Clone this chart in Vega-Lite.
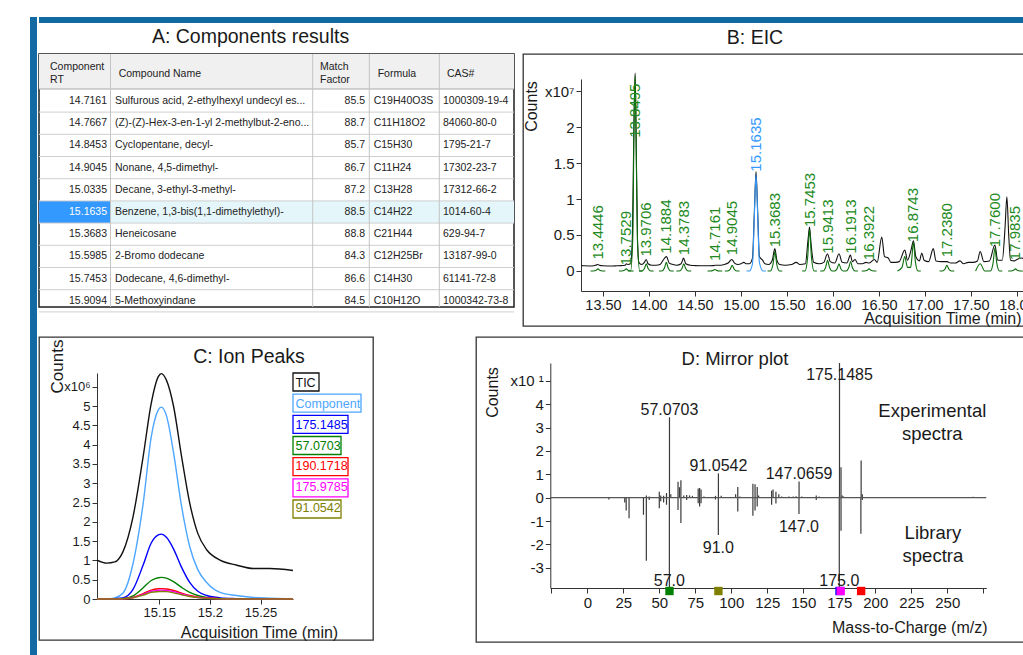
{
"$schema": "https://vega.github.io/schema/vega-lite/v6.json",
"padding": {"left": 30, "top": 17, "right": 0, "bottom": 0},
"background": "white",
"config": {
  "font": "Liberation Sans",
  "view": {"stroke": null},
  "axis": {"grid": false, "labelFont": "Liberation Sans", "titleFont": "Liberation Sans", "labelColor": "#1a1a1a", "titleColor": "#1a1a1a", "domainColor": "#333333", "tickColor": "#333333", "titleFontWeight": "normal", "labelFlush": false, "labelOverlap": false, "labelBound": false, "tickSize": 5, "labelPadding": 2},
  "title": {"font": "Liberation Sans", "fontWeight": "normal", "color": "#1a1a1a"},
  "text": {"font": "Liberation Sans"}
},
"datasets": {
  "tableRows": [
    {"rt":"14.7161","name":"Sulfurous acid, 2-ethylhexyl undecyl es...","mf":"85.5","formula":"C19H40O3S","cas":"1000309-19-4"},
    {"rt":"14.7667","name":"(Z)-(Z)-Hex-3-en-1-yl 2-methylbut-2-eno...","mf":"88.7","formula":"C11H18O2","cas":"84060-80-0"},
    {"rt":"14.8453","name":"Cyclopentane, decyl-","mf":"85.7","formula":"C15H30","cas":"1795-21-7"},
    {"rt":"14.9045","name":"Nonane, 4,5-dimethyl-","mf":"86.7","formula":"C11H24","cas":"17302-23-7"},
    {"rt":"15.0335","name":"Decane, 3-ethyl-3-methyl-","mf":"87.2","formula":"C13H28","cas":"17312-66-2"},
    {"rt":"15.1635","name":"Benzene, 1,3-bis(1,1-dimethylethyl)-","mf":"88.5","formula":"C14H22","cas":"1014-60-4"},
    {"rt":"15.3683","name":"Heneicosane","mf":"88.8","formula":"C21H44","cas":"629-94-7"},
    {"rt":"15.5985","name":"2-Bromo dodecane","mf":"84.3","formula":"C12H25Br","cas":"13187-99-0"},
    {"rt":"15.7453","name":"Dodecane, 4,6-dimethyl-","mf":"86.6","formula":"C14H30","cas":"61141-72-8"},
    {"rt":"15.9094","name":"5-Methoxyindane","mf":"84.5","formula":"C10H12O","cas":"1000342-73-8"}
  ],
  "ticRows": [
    {"t":13.261,"v":0.075},{"t":13.30,"v":0.072},{"t":13.35,"v":0.07},{"t":13.40,"v":0.073},{"t":13.43,"v":0.085},{"t":13.445,"v":0.09},{"t":13.46,"v":0.08},{"t":13.50,"v":0.072},{"t":13.55,"v":0.07},{"t":13.60,"v":0.07},{"t":13.65,"v":0.072},{"t":13.70,"v":0.075},{"t":13.74,"v":0.08},{"t":13.755,"v":0.1},{"t":13.77,"v":0.09},{"t":13.80,"v":0.1},{"t":13.82,"v":0.5},{"t":13.835,"v":1.9},{"t":13.8495,"v":2.75},{"t":13.86,"v":1.9},{"t":13.875,"v":0.45},{"t":13.89,"v":0.12},{"t":13.92,"v":0.09},{"t":13.95,"v":0.12},{"t":13.97,"v":0.16},{"t":13.99,"v":0.1},{"t":14.03,"v":0.08},{"t":14.08,"v":0.08},{"t":14.12,"v":0.09},{"t":14.17,"v":0.18},{"t":14.19,"v":0.2},{"t":14.22,"v":0.11},{"t":14.26,"v":0.09},{"t":14.30,"v":0.08},{"t":14.35,"v":0.1},{"t":14.375,"v":0.18},{"t":14.40,"v":0.1},{"t":14.45,"v":0.08},{"t":14.50,"v":0.075},{"t":14.60,"v":0.072},{"t":14.70,"v":0.075},{"t":14.72,"v":0.08},{"t":14.78,"v":0.08},{"t":14.82,"v":0.09},{"t":14.86,"v":0.11},{"t":14.90,"v":0.16},{"t":14.93,"v":0.11},{"t":14.97,"v":0.09},{"t":15.00,"v":0.1},{"t":15.03,"v":0.12},{"t":15.06,"v":0.1},{"t":15.09,"v":0.1},{"t":15.125,"v":0.18},{"t":15.145,"v":0.8},{"t":15.1635,"v":1.38},{"t":15.182,"v":0.8},{"t":15.2,"v":0.2},{"t":15.235,"v":0.15},{"t":15.26,"v":0.1},{"t":15.30,"v":0.09},{"t":15.34,"v":0.15},{"t":15.368,"v":0.31},{"t":15.39,"v":0.15},{"t":15.42,"v":0.09},{"t":15.48,"v":0.08},{"t":15.55,"v":0.09},{"t":15.60,"v":0.12},{"t":15.64,"v":0.09},{"t":15.70,"v":0.1},{"t":15.73,"v":0.45},{"t":15.745,"v":0.61},{"t":15.76,"v":0.4},{"t":15.79,"v":0.12},{"t":15.85,"v":0.1},{"t":15.90,"v":0.12},{"t":15.94,"v":0.24},{"t":15.97,"v":0.13},{"t":16.02,"v":0.11},{"t":16.065,"v":0.24},{"t":16.10,"v":0.12},{"t":16.15,"v":0.11},{"t":16.19,"v":0.22},{"t":16.21,"v":0.13},{"t":16.24,"v":0.16},{"t":16.27,"v":0.1},{"t":16.32,"v":0.1},{"t":16.36,"v":0.12},{"t":16.39,"v":0.11},{"t":16.45,"v":0.16},{"t":16.48,"v":0.12},{"t":16.53,"v":0.47},{"t":16.56,"v":0.2},{"t":16.60,"v":0.18},{"t":16.63,"v":0.12},{"t":16.68,"v":0.12},{"t":16.72,"v":0.13},{"t":16.78,"v":0.29},{"t":16.81,"v":0.15},{"t":16.85,"v":0.3},{"t":16.875,"v":0.42},{"t":16.90,"v":0.2},{"t":16.94,"v":0.14},{"t":16.965,"v":0.25},{"t":16.99,"v":0.15},{"t":17.04,"v":0.13},{"t":17.09,"v":0.31},{"t":17.12,"v":0.14},{"t":17.18,"v":0.13},{"t":17.24,"v":0.13},{"t":17.28,"v":0.11},{"t":17.33,"v":0.11},{"t":17.38,"v":0.14},{"t":17.42,"v":0.1},{"t":17.47,"v":0.12},{"t":17.52,"v":0.12},{"t":17.57,"v":0.14},{"t":17.60,"v":0.27},{"t":17.64,"v":0.13},{"t":17.70,"v":0.14},{"t":17.76,"v":0.36},{"t":17.79,"v":0.15},{"t":17.84,"v":0.15},{"t":17.87,"v":0.6},{"t":17.89,"v":1.03},{"t":17.91,"v":0.5},{"t":17.93,"v":0.15},{"t":17.97,"v":0.14},{"t":18.00,"v":0.16},{"t":18.05,"v":0.18},{"t":18.10,"v":0.16},{"t":18.174,"v":0.15}
  ],
  "eicRows": [
    {"c":"13.4446","t":13.3646,"v":0},{"c":"13.4446","t":13.3946,"v":0},{"c":"13.4446","t":13.4246,"v":0.01},{"c":"13.4446","t":13.4446,"v":0.03},{"c":"13.4446","t":13.4646,"v":0.01},{"c":"13.4446","t":13.4946,"v":0},{"c":"13.4446","t":13.5246,"v":0},
    {"c":"13.7529","t":13.6729,"v":0},{"c":"13.7529","t":13.7029,"v":0},{"c":"13.7529","t":13.7329,"v":0.01},{"c":"13.7529","t":13.7529,"v":0.03},{"c":"13.7529","t":13.7729,"v":0.01},{"c":"13.7529","t":13.8029,"v":0},{"c":"13.7529","t":13.8329,"v":0},
    {"c":"13.8495","t":13.77,"v":0},{"c":"13.8495","t":13.80,"v":0},{"c":"13.8495","t":13.825,"v":0.5},{"c":"13.8495","t":13.835,"v":1.8},{"c":"13.8495","t":13.8495,"v":2.72},{"c":"13.8495","t":13.86,"v":1.8},{"c":"13.8495","t":13.875,"v":0.4},{"c":"13.8495","t":13.90,"v":0},{"c":"13.8495","t":13.93,"v":0},
    {"c":"13.9706","t":13.8906,"v":0},{"c":"13.9706","t":13.9206,"v":0},{"c":"13.9706","t":13.9506,"v":0.035},{"c":"13.9706","t":13.9706,"v":0.1},{"c":"13.9706","t":13.9906,"v":0.035},{"c":"13.9706","t":14.0206,"v":0},{"c":"13.9706","t":14.0506,"v":0},
    {"c":"14.1884","t":14.1084,"v":0},{"c":"14.1884","t":14.1384,"v":0},{"c":"14.1884","t":14.1684,"v":0.042},{"c":"14.1884","t":14.1884,"v":0.12},{"c":"14.1884","t":14.2084,"v":0.042},{"c":"14.1884","t":14.2384,"v":0},{"c":"14.1884","t":14.2684,"v":0},
    {"c":"14.3783","t":14.2983,"v":0},{"c":"14.3783","t":14.3283,"v":0},{"c":"14.3783","t":14.3583,"v":0.035},{"c":"14.3783","t":14.3783,"v":0.1},{"c":"14.3783","t":14.3983,"v":0.035},{"c":"14.3783","t":14.4283,"v":0},{"c":"14.3783","t":14.4583,"v":0},
    {"c":"14.7161","t":14.6361,"v":0},{"c":"14.7161","t":14.6661,"v":0},{"c":"14.7161","t":14.6961,"v":0.007},{"c":"14.7161","t":14.7161,"v":0.02},{"c":"14.7161","t":14.7361,"v":0.007},{"c":"14.7161","t":14.7661,"v":0},{"c":"14.7161","t":14.7961,"v":0},
    {"c":"14.9045","t":14.8245,"v":0},{"c":"14.9045","t":14.8545,"v":0},{"c":"14.9045","t":14.8845,"v":0.028},{"c":"14.9045","t":14.9045,"v":0.08},{"c":"14.9045","t":14.9245,"v":0.028},{"c":"14.9045","t":14.9545,"v":0},{"c":"14.9045","t":14.9845,"v":0},
    {"c":"15.1635","t":15.06,"v":0},{"c":"15.1635","t":15.09,"v":0},{"c":"15.1635","t":15.125,"v":0.1},{"c":"15.1635","t":15.145,"v":0.75},{"c":"15.1635","t":15.1635,"v":1.34},{"c":"15.1635","t":15.182,"v":0.75},{"c":"15.1635","t":15.2,"v":0.12},{"c":"15.1635","t":15.24,"v":0},{"c":"15.1635","t":15.27,"v":0},
    {"c":"15.3683","t":15.2883,"v":0},{"c":"15.3683","t":15.3183,"v":0},{"c":"15.3683","t":15.3483,"v":0.095},{"c":"15.3683","t":15.3683,"v":0.27},{"c":"15.3683","t":15.3883,"v":0.095},{"c":"15.3683","t":15.4183,"v":0},{"c":"15.3683","t":15.4483,"v":0},
    {"c":"15.7453","t":15.6653,"v":0},{"c":"15.7453","t":15.6953,"v":0},{"c":"15.7453","t":15.7253,"v":0.2},{"c":"15.7453","t":15.7453,"v":0.58},{"c":"15.7453","t":15.7653,"v":0.2},{"c":"15.7453","t":15.7953,"v":0},{"c":"15.7453","t":15.8253,"v":0},
    {"c":"15.9413","t":15.8613,"v":0},{"c":"15.9413","t":15.8913,"v":0},{"c":"15.9413","t":15.9213,"v":0.053},{"c":"15.9413","t":15.9413,"v":0.15},{"c":"15.9413","t":15.9613,"v":0.053},{"c":"15.9413","t":15.9913,"v":0},{"c":"15.9413","t":16.0213,"v":0},
    {"c":"16.1913","t":16.02,"v":0},{"c":"16.1913","t":16.045,"v":0.03},{"c":"16.1913","t":16.065,"v":0.1},{"c":"16.1913","t":16.085,"v":0.03},{"c":"16.1913","t":16.11,"v":0},{"c":"16.1913","t":16.1413,"v":0},{"c":"16.1913","t":16.1713,"v":0.045},{"c":"16.1913","t":16.1913,"v":0.13},{"c":"16.1913","t":16.2113,"v":0.045},{"c":"16.1913","t":16.2413,"v":0},{"c":"16.1913","t":16.2713,"v":0},
    {"c":"16.3922","t":16.3122,"v":0},{"c":"16.3922","t":16.3422,"v":0},{"c":"16.3922","t":16.3722,"v":0.01},{"c":"16.3922","t":16.3922,"v":0.03},{"c":"16.3922","t":16.4122,"v":0.01},{"c":"16.3922","t":16.4422,"v":0},{"c":"16.3922","t":16.4722,"v":0},
    {"c":"16.8743","t":16.70,"v":0},{"c":"16.8743","t":16.75,"v":0.05},{"c":"16.8743","t":16.78,"v":0.2},{"c":"16.8743","t":16.81,"v":0.05},{"c":"16.8743","t":16.8443,"v":0.05},{"c":"16.8743","t":16.8543,"v":0.14},{"c":"16.8743","t":16.8743,"v":0.4},{"c":"16.8743","t":16.8943,"v":0.14},{"c":"16.8743","t":16.9243,"v":0},{"c":"16.8743","t":16.9543,"v":0},
    {"c":"17.2380","t":17.158,"v":0},{"c":"17.2380","t":17.188,"v":0},{"c":"17.2380","t":17.218,"v":0.028},{"c":"17.2380","t":17.238,"v":0.08},{"c":"17.2380","t":17.258,"v":0.028},{"c":"17.2380","t":17.288,"v":0},{"c":"17.2380","t":17.318,"v":0},
    {"c":"17.7600","t":17.55,"v":0},{"c":"17.7600","t":17.60,"v":0.1},{"c":"17.7600","t":17.65,"v":0},{"c":"17.7600","t":17.71,"v":0},{"c":"17.7600","t":17.74,"v":0.11},{"c":"17.7600","t":17.76,"v":0.32},{"c":"17.7600","t":17.78,"v":0.11},{"c":"17.7600","t":17.81,"v":0},{"c":"17.7600","t":17.84,"v":0},
    {"c":"17.9835","t":17.9035,"v":0},{"c":"17.9835","t":17.9335,"v":0},{"c":"17.9835","t":17.9635,"v":0.01},{"c":"17.9835","t":17.9835,"v":0.03},{"c":"17.9835","t":18.0035,"v":0.01},{"c":"17.9835","t":18.0335,"v":0},{"c":"17.9835","t":18.0635,"v":0}
  ],
  "eicLabelRows": [
    {"label":"13.4446","rt":13.4446,"apex":0.16},{"label":"13.7529","rt":13.7529,"apex":0.08},{"label":"13.8495","rt":13.8495,"apex":1.85},{"label":"13.9706","rt":13.9706,"apex":0.2},{"label":"14.1884","rt":14.1884,"apex":0.24},{"label":"14.3783","rt":14.3783,"apex":0.22},{"label":"14.7161","rt":14.7161,"apex":0.14},{"label":"14.9045","rt":14.9045,"apex":0.22},{"label":"15.1635","rt":15.1635,"apex":1.38},{"label":"15.3683","rt":15.3683,"apex":0.33},{"label":"15.7453","rt":15.7453,"apex":0.61},{"label":"15.9413","rt":15.9413,"apex":0.24},{"label":"16.1913","rt":16.1913,"apex":0.24},{"label":"16.3922","rt":16.3922,"apex":0.15},{"label":"16.8743","rt":16.8743,"apex":0.4},{"label":"17.2380","rt":17.238,"apex":0.19},{"label":"17.7600","rt":17.76,"apex":0.33},{"label":"17.9835","rt":17.9835,"apex":0.15}
  ],
  "ionRows": [
    {"s":"TIC","t":15.0884,"v":1.01},{"s":"TIC","t":15.098,"v":0.93},{"s":"TIC","t":15.106,"v":0.96},{"s":"TIC","t":15.114,"v":1.22},{"s":"TIC","t":15.124,"v":2.13},{"s":"TIC","t":15.134,"v":3.69},{"s":"TIC","t":15.142,"v":5.07},{"s":"TIC","t":15.149,"v":5.76},{"s":"TIC","t":15.152,"v":5.84},{"s":"TIC","t":15.157,"v":5.67},{"s":"TIC","t":15.164,"v":5.0},{"s":"TIC","t":15.172,"v":3.69},{"s":"TIC","t":15.18,"v":2.49},{"s":"TIC","t":15.188,"v":1.7},{"s":"TIC","t":15.197,"v":1.27},{"s":"TIC","t":15.21,"v":1.01},{"s":"TIC","t":15.226,"v":0.88},{"s":"TIC","t":15.243,"v":0.79},{"s":"TIC","t":15.259,"v":0.79},{"s":"TIC","t":15.2821,"v":0.74},
    {"s":"Component","t":15.0884,"v":0},{"s":"Component","t":15.098,"v":0},{"s":"Component","t":15.106,"v":0.03},{"s":"Component","t":15.114,"v":0.15},{"s":"Component","t":15.124,"v":0.92},{"s":"Component","t":15.134,"v":2.47},{"s":"Component","t":15.142,"v":4.2},{"s":"Component","t":15.149,"v":4.9},{"s":"Component","t":15.152,"v":4.97},{"s":"Component","t":15.157,"v":4.75},{"s":"Component","t":15.164,"v":3.8},{"s":"Component","t":15.172,"v":2.4},{"s":"Component","t":15.18,"v":1.36},{"s":"Component","t":15.188,"v":0.76},{"s":"Component","t":15.197,"v":0.42},{"s":"Component","t":15.21,"v":0.17},{"s":"Component","t":15.226,"v":0.09},{"s":"Component","t":15.243,"v":0.04},{"s":"Component","t":15.259,"v":0.02},{"s":"Component","t":15.2821,"v":0},
    {"s":"175.1485","t":15.0884,"v":0},{"s":"175.1485","t":15.098,"v":0},{"s":"175.1485","t":15.106,"v":0.01},{"s":"175.1485","t":15.114,"v":0.03},{"s":"175.1485","t":15.124,"v":0.25},{"s":"175.1485","t":15.134,"v":0.88},{"s":"175.1485","t":15.142,"v":1.45},{"s":"175.1485","t":15.149,"v":1.66},{"s":"175.1485","t":15.152,"v":1.68},{"s":"175.1485","t":15.157,"v":1.6},{"s":"175.1485","t":15.164,"v":1.3},{"s":"175.1485","t":15.172,"v":0.82},{"s":"175.1485","t":15.18,"v":0.43},{"s":"175.1485","t":15.188,"v":0.2},{"s":"175.1485","t":15.197,"v":0.09},{"s":"175.1485","t":15.21,"v":0.03},{"s":"175.1485","t":15.226,"v":0.01},{"s":"175.1485","t":15.243,"v":0},{"s":"175.1485","t":15.259,"v":0},{"s":"175.1485","t":15.2821,"v":0},
    {"s":"57.0703","t":15.0884,"v":0},{"s":"57.0703","t":15.098,"v":0},{"s":"57.0703","t":15.106,"v":0},{"s":"57.0703","t":15.114,"v":0.01},{"s":"57.0703","t":15.124,"v":0.08},{"s":"57.0703","t":15.134,"v":0.29},{"s":"57.0703","t":15.142,"v":0.48},{"s":"57.0703","t":15.149,"v":0.55},{"s":"57.0703","t":15.152,"v":0.56},{"s":"57.0703","t":15.157,"v":0.54},{"s":"57.0703","t":15.164,"v":0.45},{"s":"57.0703","t":15.172,"v":0.3},{"s":"57.0703","t":15.18,"v":0.17},{"s":"57.0703","t":15.188,"v":0.09},{"s":"57.0703","t":15.197,"v":0.04},{"s":"57.0703","t":15.21,"v":0.01},{"s":"57.0703","t":15.226,"v":0},{"s":"57.0703","t":15.243,"v":0},{"s":"57.0703","t":15.259,"v":0},{"s":"57.0703","t":15.2821,"v":0},
    {"s":"190.1718","t":15.0884,"v":0},{"s":"190.1718","t":15.098,"v":0},{"s":"190.1718","t":15.106,"v":0},{"s":"190.1718","t":15.114,"v":0.005},{"s":"190.1718","t":15.124,"v":0.04},{"s":"190.1718","t":15.134,"v":0.14},{"s":"190.1718","t":15.142,"v":0.23},{"s":"190.1718","t":15.149,"v":0.265},{"s":"190.1718","t":15.152,"v":0.27},{"s":"190.1718","t":15.157,"v":0.26},{"s":"190.1718","t":15.164,"v":0.22},{"s":"190.1718","t":15.172,"v":0.15},{"s":"190.1718","t":15.18,"v":0.09},{"s":"190.1718","t":15.188,"v":0.05},{"s":"190.1718","t":15.197,"v":0.025},{"s":"190.1718","t":15.21,"v":0.01},{"s":"190.1718","t":15.226,"v":0},{"s":"190.1718","t":15.243,"v":0},{"s":"190.1718","t":15.259,"v":0},{"s":"190.1718","t":15.2821,"v":0},
    {"s":"175.9785","t":15.0884,"v":0},{"s":"175.9785","t":15.098,"v":0},{"s":"175.9785","t":15.106,"v":0},{"s":"175.9785","t":15.114,"v":0.005},{"s":"175.9785","t":15.124,"v":0.035},{"s":"175.9785","t":15.134,"v":0.12},{"s":"175.9785","t":15.142,"v":0.2},{"s":"175.9785","t":15.149,"v":0.225},{"s":"175.9785","t":15.152,"v":0.23},{"s":"175.9785","t":15.157,"v":0.22},{"s":"175.9785","t":15.164,"v":0.19},{"s":"175.9785","t":15.172,"v":0.13},{"s":"175.9785","t":15.18,"v":0.075},{"s":"175.9785","t":15.188,"v":0.04},{"s":"175.9785","t":15.197,"v":0.02},{"s":"175.9785","t":15.21,"v":0.005},{"s":"175.9785","t":15.226,"v":0},{"s":"175.9785","t":15.243,"v":0},{"s":"175.9785","t":15.259,"v":0},{"s":"175.9785","t":15.2821,"v":0},
    {"s":"91.0542","t":15.0884,"v":0},{"s":"91.0542","t":15.098,"v":0},{"s":"91.0542","t":15.106,"v":0},{"s":"91.0542","t":15.114,"v":0.005},{"s":"91.0542","t":15.124,"v":0.03},{"s":"91.0542","t":15.134,"v":0.1},{"s":"91.0542","t":15.142,"v":0.17},{"s":"91.0542","t":15.149,"v":0.19},{"s":"91.0542","t":15.152,"v":0.195},{"s":"91.0542","t":15.157,"v":0.19},{"s":"91.0542","t":15.164,"v":0.16},{"s":"91.0542","t":15.172,"v":0.11},{"s":"91.0542","t":15.18,"v":0.065},{"s":"91.0542","t":15.188,"v":0.035},{"s":"91.0542","t":15.197,"v":0.015},{"s":"91.0542","t":15.21,"v":0.005},{"s":"91.0542","t":15.226,"v":0},{"s":"91.0542","t":15.243,"v":0},{"s":"91.0542","t":15.259,"v":0},{"s":"91.0542","t":15.2821,"v":0}
  ],
  "ionLegendRows": [{"s":"TIC"},{"s":"Component"},{"s":"175.1485"},{"s":"57.0703"},{"s":"190.1718"},{"s":"175.9785"},{"s":"91.0542"}],
  "stickRows": [
    {"mz":15,"v":-0.08},{"mz":26,"v":-0.2},{"mz":27,"v":-0.55},{"mz":29,"v":-0.88},{"mz":39,"v":-0.73},{"mz":41,"v":0.1},{"mz":41,"v":-2.7},{"mz":43,"v":0.05},{"mz":43,"v":-0.1},
    {"mz":50,"v":0.25},{"mz":50,"v":-0.45},{"mz":51,"v":0.1},{"mz":51,"v":-0.15},{"mz":53,"v":0.08},{"mz":53,"v":-0.2},{"mz":55,"v":0.2},{"mz":55,"v":-0.3},
    {"mz":57.0703,"v":3.44},{"mz":57.0,"v":-4.2},{"mz":58,"v":0.15},
    {"mz":63,"v":0.68},{"mz":63,"v":-0.52},{"mz":64,"v":0.45},{"mz":65,"v":0.75},{"mz":65,"v":-1.08},{"mz":67,"v":0.1},{"mz":69,"v":0.12},{"mz":69,"v":-0.1},{"mz":71,"v":0.1},{"mz":73,"v":0.08},
    {"mz":77,"v":0.39},{"mz":77,"v":-0.24},{"mz":78,"v":0.42},{"mz":78,"v":-0.38},{"mz":79,"v":0.35},{"mz":79,"v":-0.24},{"mz":81,"v":0.05},
    {"mz":89,"v":0.08},{"mz":89,"v":-0.08},{"mz":91.0542,"v":1.04},{"mz":91.0,"v":-1.59},{"mz":93,"v":0.08},
    {"mz":103,"v":0.15},{"mz":104.5,"v":0.46},{"mz":104.5,"v":-0.59},{"mz":106,"v":0.05},
    {"mz":115,"v":0.6},{"mz":115,"v":-0.77},{"mz":116.5,"v":0.58},{"mz":116.5,"v":-0.55},{"mz":118,"v":0.46},{"mz":118,"v":-0.38},{"mz":119,"v":0.1},
    {"mz":128,"v":0.3},{"mz":128,"v":-0.3},{"mz":129,"v":0.35},{"mz":131,"v":0.25},{"mz":131,"v":-0.25},{"mz":133,"v":0.15},{"mz":135,"v":0.05},
    {"mz":140,"v":0.05},{"mz":143,"v":0.05},{"mz":145,"v":0.06},{"mz":147.0659,"v":0.69},{"mz":147.0,"v":-0.7},{"mz":149,"v":0.05},{"mz":152,"v":0.03},{"mz":155,"v":0.03},
    {"mz":159,"v":0.1},{"mz":159,"v":-0.1},{"mz":161,"v":0.05},{"mz":163,"v":0.03},{"mz":170,"v":0.03},{"mz":172,"v":0.03},
    {"mz":175.1485,"v":10},{"mz":175.0,"v":-10},{"mz":176.2,"v":1.3},{"mz":176.2,"v":-1.41},{"mz":177,"v":0.1},{"mz":178,"v":0.05},
    {"mz":190.1718,"v":1.59},{"mz":190.0,"v":-1.54},{"mz":191,"v":0.15},{"mz":191,"v":-0.1},
    {"mz":195,"v":0.03},{"mz":200,"v":0.02},{"mz":205,"v":0.03},{"mz":210,"v":0.02},{"mz":218,"v":0.02},{"mz":225,"v":0.03},{"mz":232,"v":0.02},{"mz":240,"v":0.03},{"mz":245,"v":0.02},{"mz":252,"v":0.03},{"mz":260,"v":0.02},{"mz":268,"v":0.04}
  ],
  "stickLabelRows": [
    {"mz":57.0703,"label":"57.0703","v":3.44},{"mz":91.0542,"label":"91.0542","v":1.04},{"mz":147.0659,"label":"147.0659","v":0.69},{"mz":175.1485,"label":"175.1485","v":10},
    {"mz":57.0,"label":"57.0","v":-4.2},{"mz":91.0,"label":"91.0","v":-1.59},{"mz":147.0,"label":"147.0","v":-0.7},{"mz":175.0,"label":"175.0","v":-10}
  ],
  "markerRows": [{"s":"57.0703","mz":57.0703},{"s":"91.0542","mz":91.0542},{"s":"175.1485","mz":175.1485},{"s":"175.9785","mz":175.9785},{"s":"190.1718","mz":190.1718}]
},
"hconcat": [
  {"width": 7, "height": 640, "data": {"values": [{"a": 0}]}, "mark": {"type": "rect", "color": "#126aa2"},
   "encoding": {"x": {"datum": 0, "type": "quantitative", "scale": {"domain": [0, 1], "nice": false}, "axis": null}, "x2": {"datum": 1},
                "y": {"datum": 0, "type": "quantitative", "scale": {"domain": [0, 1], "nice": false}, "axis": null}, "y2": {"datum": 1}}},
  {"vconcat": [
    {"vconcat": [
      {"width": 1000, "height": 6, "data": {"values": [{"a": 0}]}, "mark": {"type": "rect", "color": "#126aa2"},
       "encoding": {"x": {"datum": 0, "type": "quantitative", "scale": {"domain": [0, 1], "nice": false}, "axis": null}, "x2": {"datum": 1},
                    "y": {"datum": 0, "type": "quantitative", "scale": {"domain": [0, 1], "nice": false}, "axis": null}, "y2": {"datum": 1}}},
      {"hconcat": [
        {
          "width": 475, "height": 253,
          "view": {"stroke": "#1e1e1e", "strokeWidth": 1.5},
          "title": {"text": "A: Components results", "fontSize": 19.5, "anchor": "middle", "dx": -26, "offset": 6},
          "data": {"name": "tableRows"},
          "transform": [{"window": [{"op": "row_number", "as": "i"}]}],
          "layer": [
            {"data": {"values": [{"a": 0}]}, "mark": {"type": "rect", "color": "#f0f0f0"},
             "encoding": {"x": {"datum": 0, "type": "quantitative", "scale": {"domain": [0, 475], "nice": false, "zero": false}, "axis": null}, "x2": {"datum": 475},
                          "y": {"datum": -1.117, "type": "quantitative", "scale": {"domain": [-1.117, 10.279], "nice": false, "zero": false, "reverse": true}, "axis": null}, "y2": {"datum": 0.46}}},
            {"transform": [{"filter": "datum.rt === '15.1635'"}], "mark": {"type": "rect", "color": "#e4f6fa", "yOffset": -11.1, "y2Offset": 11.1},
             "encoding": {"x": {"datum": 71.5, "type": "quantitative"}, "x2": {"datum": 475}, "y": {"field": "i", "type": "quantitative"}, "y2": {"field": "i"}}},
            {"transform": [{"filter": "datum.rt === '15.1635'"}], "mark": {"type": "rect", "color": "#3399ff", "yOffset": -11.1, "y2Offset": 11.1},
             "encoding": {"x": {"datum": 0, "type": "quantitative"}, "x2": {"datum": 71.5}, "y": {"field": "i", "type": "quantitative"}, "y2": {"field": "i"}}},
            {"mark": {"type": "rule", "color": "#cfcfcf", "yOffset": 11.1},
             "encoding": {"x": {"datum": 0, "type": "quantitative"}, "x2": {"datum": 475}, "y": {"field": "i", "type": "quantitative"}}},
            {"data": {"values": [{"a": 0}]}, "mark": {"type": "rule", "color": "#a8a8a8"},
             "encoding": {"x": {"datum": 0, "type": "quantitative"}, "x2": {"datum": 475}, "y": {"datum": 0.46, "type": "quantitative"}}},
            {"data": {"values": [{"a": 0}]}, "mark": {"type": "rule", "color": "#c4c4c4"},
             "encoding": {"x": {"datum": 71.5, "type": "quantitative"}, "y": {"datum": -1.117, "type": "quantitative"}, "y2": {"datum": 10.279}}},
            {"data": {"values": [{"a": 0}]}, "mark": {"type": "rule", "color": "#c4c4c4"},
             "encoding": {"x": {"datum": 273.7, "type": "quantitative"}, "y": {"datum": -1.117, "type": "quantitative"}, "y2": {"datum": 10.279}}},
            {"data": {"values": [{"a": 0}]}, "mark": {"type": "rule", "color": "#c4c4c4"},
             "encoding": {"x": {"datum": 330.3, "type": "quantitative"}, "y": {"datum": -1.117, "type": "quantitative"}, "y2": {"datum": 10.279}}},
            {"data": {"values": [{"a": 0}]}, "mark": {"type": "rule", "color": "#c4c4c4"},
             "encoding": {"x": {"datum": 400.3, "type": "quantitative"}, "y": {"datum": -1.117, "type": "quantitative"}, "y2": {"datum": 10.279}}},
            {"data": {"values": [{"a": 0}]}, "mark": {"type": "text", "text": ["Component", "RT"], "align": "left", "baseline": "middle", "fontSize": 10.5, "lineHeight": 13, "color": "#222222"},
             "encoding": {"x": {"datum": 11, "type": "quantitative"}, "y": {"datum": -0.53, "type": "quantitative"}}},
            {"data": {"values": [{"a": 0}]}, "mark": {"type": "text", "text": "Compound Name", "align": "left", "baseline": "middle", "fontSize": 10.5, "color": "#222222"},
             "encoding": {"x": {"datum": 79.7, "type": "quantitative"}, "y": {"datum": -0.216, "type": "quantitative"}}},
            {"data": {"values": [{"a": 0}]}, "mark": {"type": "text", "text": ["Match", "Factor"], "align": "left", "baseline": "middle", "fontSize": 10.5, "lineHeight": 13, "color": "#222222"},
             "encoding": {"x": {"datum": 281, "type": "quantitative"}, "y": {"datum": -0.53, "type": "quantitative"}}},
            {"data": {"values": [{"a": 0}]}, "mark": {"type": "text", "text": "Formula", "align": "left", "baseline": "middle", "fontSize": 10.5, "color": "#222222"},
             "encoding": {"x": {"datum": 338.7, "type": "quantitative"}, "y": {"datum": -0.216, "type": "quantitative"}}},
            {"data": {"values": [{"a": 0}]}, "mark": {"type": "text", "text": "CAS#", "align": "left", "baseline": "middle", "fontSize": 10.5, "color": "#222222"},
             "encoding": {"x": {"datum": 408, "type": "quantitative"}, "y": {"datum": -0.216, "type": "quantitative"}}},
            {"mark": {"type": "text", "align": "right", "baseline": "middle", "fontSize": 10.5},
             "encoding": {"x": {"datum": 68, "type": "quantitative"}, "y": {"field": "i", "type": "quantitative"}, "text": {"field": "rt", "type": "nominal"},
                          "color": {"condition": {"test": "datum.rt === '15.1635'", "value": "#ffffff"}, "value": "#222222"}}},
            {"mark": {"type": "text", "align": "left", "baseline": "middle", "fontSize": 10.5, "color": "#222222"},
             "encoding": {"x": {"datum": 76, "type": "quantitative"}, "y": {"field": "i", "type": "quantitative"}, "text": {"field": "name", "type": "nominal"}}},
            {"mark": {"type": "text", "align": "right", "baseline": "middle", "fontSize": 10.5, "color": "#222222"},
             "encoding": {"x": {"datum": 326, "type": "quantitative"}, "y": {"field": "i", "type": "quantitative"}, "text": {"field": "mf", "type": "nominal"}}},
            {"mark": {"type": "text", "align": "left", "baseline": "middle", "fontSize": 10.5, "color": "#222222"},
             "encoding": {"x": {"datum": 334.7, "type": "quantitative"}, "y": {"field": "i", "type": "quantitative"}, "text": {"field": "formula", "type": "nominal"}}},
            {"mark": {"type": "text", "align": "left", "baseline": "middle", "fontSize": 10.5, "color": "#222222"},
             "encoding": {"x": {"datum": 404, "type": "quantitative"}, "y": {"field": "i", "type": "quantitative"}, "text": {"field": "cas", "type": "nominal"}}}
          ]
        },
        {
          "width": 510, "height": 272,
          "view": {"stroke": "#333333", "strokeWidth": 1.3},
          "title": {"text": "B: EIC", "fontSize": 19.5, "anchor": "middle", "dx": -23, "offset": 6},
          "layer": [
            {"data": {"name": "ticRows"}, "mark": {"type": "line", "color": "#111111", "strokeWidth": 1.1, "interpolate": "monotone"},
             "encoding": {
               "x": {"field": "t", "type": "quantitative", "scale": {"domain": [13.261, 18.174], "range": [58, 510], "nice": false, "zero": false},
                     "axis": {"title": "Acquisition Time (min)", "offset": -35, "values": [13.5, 14, 14.5, 15, 15.5, 16, 16.5, 17, 17.5, 18], "tickCount": 30, "format": ".2f", "labelFontSize": 14.5, "titleFontSize": 16, "titleX": 498, "titleY": 27, "titleAlign": "right", "titleBaseline": "middle"}},
               "y": {"field": "v", "type": "quantitative", "scale": {"domain": [-0.278, 2.667], "range": [237, 25], "nice": false, "zero": false},
                     "axis": {"title": "Counts", "offset": -58, "values": [0, 0.5, 1, 1.5, 2, 2.5], "tickCount": 30, "labelExpr": "datum.value > 2.4 ? 'x10⁷' : datum.value == 0.5 || datum.value == 1.5 ? datum.label : format(datum.value, 'd')", "labelFontSize": 15, "titleFontSize": 16, "titleX": -50, "titleY": 52, "titleAngle": -90, "titleAlign": "center", "titleBaseline": "middle"}}
             }},
            {"data": {"name": "eicRows"}, "mark": {"type": "line", "strokeWidth": 1.1, "interpolate": "monotone"},
             "encoding": {"x": {"field": "t", "type": "quantitative"}, "y": {"field": "v", "type": "quantitative"}, "detail": {"field": "c", "type": "nominal"},
                          "color": {"condition": {"test": "datum.c === '15.1635'", "value": "#3399ff"}, "value": "#0b6e0b"}}},
            {"data": {"name": "eicLabelRows"}, "mark": {"type": "text", "angle": 270, "align": "left", "baseline": "middle", "font": "Liberation Sans", "fontSize": 15},
             "encoding": {"x": {"field": "rt", "type": "quantitative"}, "y": {"field": "apex", "type": "quantitative"}, "text": {"field": "label", "type": "nominal"},
                          "color": {"condition": {"test": "datum.label === '15.1635'", "value": "#3399ff"}, "value": "#238a23"}}}
          ]
        }
      ], "spacing": 6}
    ], "spacing": 3},
    {"hconcat": [
      {
        "width": 334, "height": 303,
        "view": {"stroke": "#333333", "strokeWidth": 1.3},
        "title": {"text": "C: Ion Peaks", "fontSize": 19.5, "anchor": "middle", "dx": 43, "offset": -30},
        "resolve": {"scale": {"y": "independent"}},
        "layer": [
          {"data": {"name": "ionRows"}, "mark": {"type": "line", "strokeWidth": 1.4, "interpolate": "monotone"},
           "encoding": {
             "x": {"field": "t", "type": "quantitative", "scale": {"domain": [15.0884, 15.2821], "range": [58, 254], "nice": false, "zero": false},
                   "axis": {"title": "Acquisition Time (min)", "offset": -41, "values": [15.15, 15.2, 15.25], "tickCount": 30, "labelExpr": "format(datum.value, '~g')", "labelFontSize": 13, "titleFontSize": 16, "titleX": 220, "titleY": 33, "titleAlign": "center", "titleBaseline": "middle"}},
             "y": {"field": "v", "type": "quantitative", "scale": {"domain": [0, 5.855], "range": [262, 36], "nice": false, "zero": false},
                   "axis": {"title": "Counts", "offset": -58, "values": [0, 0.5, 1, 1.5, 2, 2.5, 3, 3.5, 4, 4.5, 5, 5.5], "tickCount": 30, "labelExpr": "datum.value > 5.2 ? 'x10⁶' : format(datum.value, '~g')", "labelFontSize": 13, "titleFontSize": 17, "titleX": -40, "titleY": 29, "titleAngle": -90, "titleAlign": "center", "titleBaseline": "middle"}},
             "color": {"field": "s", "type": "nominal", "scale": {"domain": ["TIC","Component","175.1485","57.0703","190.1718","175.9785","91.0542"], "range": ["#111111","#4da6ff","#0000ff","#008000","#ff0000","#ff00ff","#808000"]}, "legend": null}
           }},
          {"data": {"name": "ionLegendRows"}, "transform": [{"filter": "datum.s === 'TIC'"}], "mark": {"type": "rect", "fill": "white", "strokeWidth": 1.3, "x2Offset": 26},
           "encoding": {"x": {"datum": 15.2821, "type": "quantitative"}, "x2": {"datum": 15.2821},
                        "y": {"field": "s", "type": "nominal", "scale": {"domain": ["TIC","Component","175.1485","57.0703","190.1718","175.9785","91.0542"], "range": [36, 181], "paddingInner": 0.15, "paddingOuter": 0}, "axis": null},
                        "stroke": {"field": "s", "type": "nominal", "scale": {"domain": ["TIC","Component","175.1485","57.0703","190.1718","175.9785","91.0542"], "range": ["#111111","#4da6ff","#0000ff","#008000","#ff0000","#ff00ff","#808000"]}, "legend": null}}},
          {"data": {"name": "ionLegendRows"}, "transform": [{"filter": "datum.s === 'Component'"}], "mark": {"type": "rect", "fill": "white", "strokeWidth": 1.3, "x2Offset": 68},
           "encoding": {"x": {"datum": 15.2821, "type": "quantitative"}, "x2": {"datum": 15.2821},
                        "y": {"field": "s", "type": "nominal", "scale": {"domain": ["TIC","Component","175.1485","57.0703","190.1718","175.9785","91.0542"], "range": [36, 181], "paddingInner": 0.15, "paddingOuter": 0}, "axis": null},
                        "stroke": {"field": "s", "type": "nominal", "legend": null}}},
          {"data": {"name": "ionLegendRows"}, "transform": [{"filter": {"field": "s", "oneOf": ["175.1485", "190.1718", "175.9785"]}}], "mark": {"type": "rect", "fill": "white", "strokeWidth": 1.3, "x2Offset": 55},
           "encoding": {"x": {"datum": 15.2821, "type": "quantitative"}, "x2": {"datum": 15.2821},
                        "y": {"field": "s", "type": "nominal", "scale": {"domain": ["TIC","Component","175.1485","57.0703","190.1718","175.9785","91.0542"], "range": [36, 181], "paddingInner": 0.15, "paddingOuter": 0}, "axis": null},
                        "stroke": {"field": "s", "type": "nominal", "legend": null}}},
          {"data": {"name": "ionLegendRows"}, "transform": [{"filter": {"field": "s", "oneOf": ["57.0703", "91.0542"]}}], "mark": {"type": "rect", "fill": "white", "strokeWidth": 1.3, "x2Offset": 48},
           "encoding": {"x": {"datum": 15.2821, "type": "quantitative"}, "x2": {"datum": 15.2821},
                        "y": {"field": "s", "type": "nominal", "scale": {"domain": ["TIC","Component","175.1485","57.0703","190.1718","175.9785","91.0542"], "range": [36, 181], "paddingInner": 0.15, "paddingOuter": 0}, "axis": null},
                        "stroke": {"field": "s", "type": "nominal", "legend": null}}},
          {"data": {"name": "ionLegendRows"}, "mark": {"type": "text", "align": "left", "baseline": "middle", "fontSize": 12.5, "dx": 2.5},
           "encoding": {"x": {"datum": 15.2821, "type": "quantitative"},
                        "y": {"field": "s", "type": "nominal", "scale": {"domain": ["TIC","Component","175.1485","57.0703","190.1718","175.9785","91.0542"], "range": [36, 181], "paddingInner": 0.15, "paddingOuter": 0}, "axis": null},
                        "text": {"field": "s", "type": "nominal"}, "color": {"field": "s", "type": "nominal", "legend": null}}}
        ]
      },
      {
        "width": 552, "height": 305,
        "view": {"stroke": "#333333", "strokeWidth": 1.3},
        "title": {"text": "D: Mirror plot", "fontSize": 18.5, "anchor": "middle", "dx": -17, "offset": -31},
        "layer": [
          {"data": {"name": "stickRows"}, "mark": {"type": "rule", "color": "#3a3a3a", "strokeWidth": 1.2},
           "encoding": {
             "x": {"field": "mz", "type": "quantitative", "scale": {"domain": [-25.7, 277.1], "range": [74.3, 510.3], "nice": false, "zero": false},
                   "axis": {"title": "Mass-to-Charge (m/z)", "offset": -54, "values": [-25, 0, 25, 50, 75, 100, 125, 150, 175, 200, 225, 250, 275], "tickCount": 30, "labelExpr": "datum.value < 0 || datum.value > 260 ? '' : datum.label", "labelFontSize": 15, "titleFontSize": 16, "titleX": 511, "titleY": 39, "titleAlign": "right", "titleBaseline": "middle"}},
             "y": {"field": "v", "type": "quantitative", "scale": {"domain": [-3.86, 5.76], "range": [251, 26], "nice": false, "zero": false, "clamp": true},
                   "axis": {"title": "Counts", "offset": -74.3, "values": [-3, -2, -1, 0, 1, 2, 3, 4, 5], "tickCount": 30, "labelOverlap": false, "labelExpr": "datum.value > 4.5 ? 'x10 ¹' : datum.value < 0 ? '-' + format(-datum.value, 'd') : format(datum.value, 'd')", "labelFontSize": 15, "titleFontSize": 16, "titleX": -58, "titleY": 55, "titleAngle": -90, "titleAlign": "center", "titleBaseline": "middle"}},
             "y2": {"datum": 0}
           }},
          {"data": {"values": [{"a": 0}]}, "mark": {"type": "rule", "color": "#555555", "strokeWidth": 1.2},
           "encoding": {"x": {"datum": -25.7, "type": "quantitative"}, "x2": {"datum": 277.1}, "y": {"datum": 0, "type": "quantitative"}}},
          {"data": {"name": "stickLabelRows"}, "transform": [{"filter": "datum.v > 0 && datum.v < 5.7"}], "mark": {"type": "text", "align": "center", "baseline": "alphabetic", "fontSize": 16, "dy": -2.5, "color": "#1a1a1a"},
           "encoding": {"x": {"field": "mz", "type": "quantitative"}, "y": {"field": "v", "type": "quantitative"}, "text": {"field": "label", "type": "nominal"}}},
          {"data": {"name": "stickLabelRows"}, "transform": [{"filter": "datum.v >= 5.7"}], "mark": {"type": "text", "align": "center", "baseline": "alphabetic", "fontSize": 16, "dy": 17, "color": "#1a1a1a"},
           "encoding": {"x": {"field": "mz", "type": "quantitative"}, "y": {"field": "v", "type": "quantitative"}, "text": {"field": "label", "type": "nominal"}}},
          {"data": {"name": "stickLabelRows"}, "transform": [{"filter": "datum.v < 0 && datum.v > -3.8"}], "mark": {"type": "text", "align": "center", "baseline": "alphabetic", "fontSize": 16, "dy": 18, "color": "#1a1a1a"},
           "encoding": {"x": {"field": "mz", "type": "quantitative"}, "y": {"field": "v", "type": "quantitative"}, "text": {"field": "label", "type": "nominal"}}},
          {"data": {"name": "stickLabelRows"}, "transform": [{"filter": "datum.v <= -3.8"}], "mark": {"type": "text", "align": "center", "baseline": "alphabetic", "fontSize": 16, "dy": -2.3, "color": "#1a1a1a"},
           "encoding": {"x": {"field": "mz", "type": "quantitative"}, "y": {"field": "v", "type": "quantitative"}, "text": {"field": "label", "type": "nominal"}}},
          {"data": {"values": [{"a": 0}]}, "mark": {"type": "text", "text": ["Experimental", "spectra"], "align": "center", "baseline": "middle", "fontSize": 18.5, "lineHeight": 23.3, "color": "#1a1a1a"},
           "encoding": {"x": {"datum": 239.6, "type": "quantitative"}, "y": {"datum": 3.7, "type": "quantitative"}}},
          {"data": {"values": [{"a": 0}]}, "mark": {"type": "text", "text": ["Library", "spectra"], "align": "center", "baseline": "middle", "fontSize": 18.5, "lineHeight": 23.3, "color": "#1a1a1a"},
           "encoding": {"x": {"datum": 240, "type": "quantitative"}, "y": {"datum": -1.5, "type": "quantitative"}}},
          {"data": {"name": "markerRows"}, "mark": {"type": "point", "shape": "square", "filled": true, "size": 70, "opacity": 1, "yOffset": 3},
           "encoding": {"x": {"field": "mz", "type": "quantitative"}, "y": {"datum": -3.86, "type": "quantitative"},
                        "color": {"field": "s", "type": "nominal", "scale": {"domain": ["57.0703","91.0542","175.1485","175.9785","190.1718"], "range": ["#008000","#808000","#0000ff","#ff00ff","#ff0000"]}, "legend": null}}}
        ]
      }
    ], "spacing": 101}
  ], "spacing": 9}
],
"spacing": 0
}
